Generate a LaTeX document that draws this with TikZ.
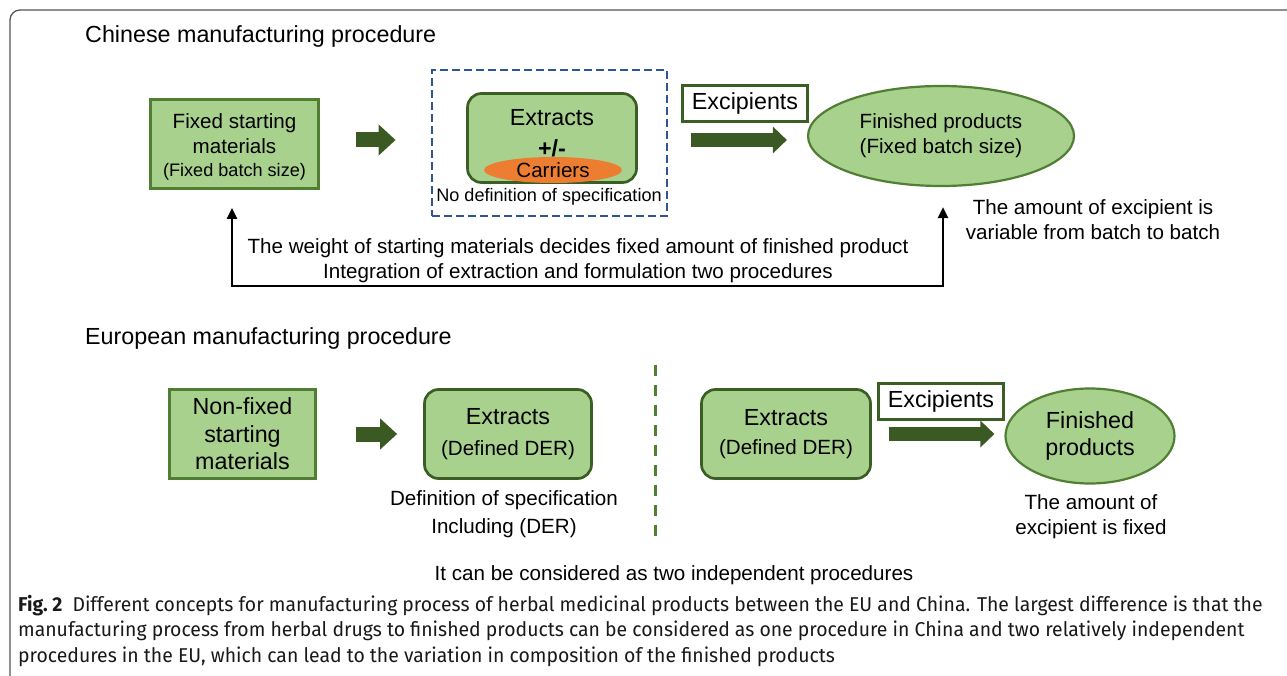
\documentclass[tikz,border=0pt]{standalone}
\usepackage{fontspec}
\setmainfont{Liberation Sans}
\newfontfamily\capfont[FakeStretch=0.97]{Fira Sans}
\usetikzlibrary{positioning,shapes.geometric,arrows.meta}
\definecolor{boxFill}{HTML}{A9D18E}
\definecolor{boxLine}{HTML}{507E32}
\definecolor{darkLine}{HTML}{3B5E25}
\definecolor{arrowGreen}{HTML}{3B5A23}
\definecolor{dashBlue}{HTML}{2F5597}
\definecolor{carrierOrange}{HTML}{ED7D31}
\definecolor{frameGray}{HTML}{555555}
\newcommand{\bigTxt}{\fontsize{23.3}{27.5}\selectfont}
\newcommand{\midTxt}{\fontsize{20.6}{25}\selectfont}
\newcommand{\smallTxt}{\fontsize{18.1}{23}\selectfont}
\tikzset{
  heading/.style={anchor=west, inner sep=0pt, font=\bigTxt},
  plain/.style={align=center, inner sep=0pt},
  greenBox/.style={rectangle, fill=boxFill, draw=boxLine, line width=2.7pt, align=center, inner sep=0pt},
  roundBox/.style={greenBox, rounded corners=14pt, draw=darkLine},
  groupBox/.style={rectangle, draw=dashBlue, line width=2.8pt, dash pattern=on 8pt off 4pt},
  greenOval/.style={ellipse, fill=boxFill, draw=boxLine, line width=2.2pt, align=center, inner sep=0pt},
  carrier/.style={ellipse, fill=carrierOrange, minimum width=138pt, minimum height=26pt, inner sep=0pt},
  excBox/.style={rectangle, fill=white, draw=darkLine, line width=2.7pt, minimum width=125pt, minimum height=36pt, font=\bigTxt},
  fatArrow/.style={draw=arrowGreen, line width=15pt, -{Triangle[length=17pt,width=30pt]}},
  fatArrowLong/.style={draw=arrowGreen, line width=14pt, -{Triangle[length=14pt,width=26pt]}},
  backArrow/.style={line width=2.6pt, {Triangle[length=11pt,width=10pt]}-{Triangle[length=11pt,width=10pt]}},
  divider/.style={draw=boxLine, line width=3pt, dash pattern=on 11pt off 9pt},
%  capFont/.style={font=\capfont},
  caption/.style={anchor=north west, align=left, inner sep=0pt, text=black!90,
    font=\capfont\fontsize{20}{25.5}\selectfont}
}

\begin{document}
\begin{tikzpicture}[x=1pt, y=-1pt, font=\midTxt]
  \useasboundingbox (0,0) rectangle (1287,676);
  \draw[frameGray, line width=1.3pt, rounded corners=10pt] (10,676) -- (10,10) -- (1287,10);

  % Chinese procedure
  \node[heading] (cnTitle) at (85,36) {Chinese manufacturing procedure};
  \node[greenBox, minimum width=168pt, minimum height=89pt] (fixedStart) at (234.5,144) {};
  \node[plain] (fixedStartTxt) at (234.5,147)
    {Fixed starting\\materials\\[-2pt]\smallTxt (Fixed batch size)};
  \node[groupBox, minimum width=235pt, minimum height=146pt] (extractsGroup) at (549.5,143) {};
  \node[roundBox, minimum width=169pt, minimum height=89pt] (extractsCn) at (552,138) {};
  \node[carrier] (carriers) at (553,170) {Carriers};
  \node[plain, font=\bigTxt] (extractsCnTxt) at (552,133) {Extracts\\[3pt]\textbf{+/-}};
  \node[plain, font=\smallTxt] (noSpec) at (549,197) {No definition of specification};
  \node[excBox] (excCn) at (745,103.5) {Excipients};
  \node[greenOval, minimum width=266pt, minimum height=100pt] (finishedCn) at (941,136)
    {Finished products\\(Fixed batch size)};
  \node[plain] (variableNote) at (1093,219.5) {The amount of excipient is\\variable from batch to batch};

  \draw[fatArrow, shorten <=36pt, shorten >=35pt] ([yshift=4pt]fixedStart.east) -- ([yshift=4pt]fixedStart.east -| extractsGroup.west);
  \draw[fatArrowLong, shorten <=23pt, shorten >=20pt] ([yshift=3pt]extractsGroup.east) -- ([yshift=3pt]extractsGroup.east -| finishedCn.west);

  \coordinate (loopL) at (232,286);
  \coordinate (loopR) at (943,286);
  \draw[backArrow, shorten <=18pt, shorten >=20pt] (loopL |- fixedStart.south) -- (loopL) -- (loopR) -- (loopR |- finishedCn.south);
  \node[plain] (loopNote) at (578,261) {The weight of starting materials decides fixed amount of finished product\\Integration of extraction and formulation two procedures};

  % European procedure
  \node[heading] (euTitle) at (85,338) {European manufacturing procedure};
  \node[greenBox, font=\bigTxt, minimum width=146pt, minimum height=89pt] (nonFixed) at (242.5,434)
    {Non-fixed\\starting\\materials};
  \node[roundBox, font=\bigTxt, minimum width=167pt, minimum height=89pt] (extractsEu) at (508,434)
    {Extracts\\[4pt]\midTxt (Defined DER)};
  \node[plain, below=11pt of extractsEu, xshift=-4pt] (specNote) {Definition of specification\\[3pt]Including (DER)};
  \draw[fatArrow, shorten <=39pt, shorten >=26pt] (nonFixed.east) -- (extractsEu.west);

  \coordinate (divTop) at (655,365);
  \coordinate (divBot) at (655,543);
  \draw[divider] (divTop) -- (divBot);

  \node[roundBox, font=\bigTxt, minimum width=169pt, minimum height=89pt] (extractsEu2) at (786,434)
    {Extracts\\[2pt]\midTxt (Defined DER)};
  \node[excBox] (excEu) at (941,401.5) {Excipients};
  \node[greenOval, font=\bigTxt, minimum width=169pt, minimum height=95pt] (finishedEu) at (1090,436)
    {Finished\\products};
  \draw[fatArrowLong, shorten <=17pt, shorten >=10pt] (extractsEu2.east) -- (extractsEu2.east -| finishedEu.west);
  \node[plain] (fixedNote) at (1091,516.5) {The amount of\\excipient is fixed};

  \node[plain] (twoProc) at (674,575) {It can be considered as two independent procedures};
  \node[caption] (figCaption) at (18,595) {\textbf{Fig.~2}\enspace Different concepts for manufacturing process of herbal medicinal products between the EU and China. The largest difference is that the\\
    manufacturing process from herbal drugs to finished products can be considered as one procedure in China and two relatively independent\\
    procedures in the EU, which can lead to the variation in composition of the finished products};
\end{tikzpicture}
\end{document}
